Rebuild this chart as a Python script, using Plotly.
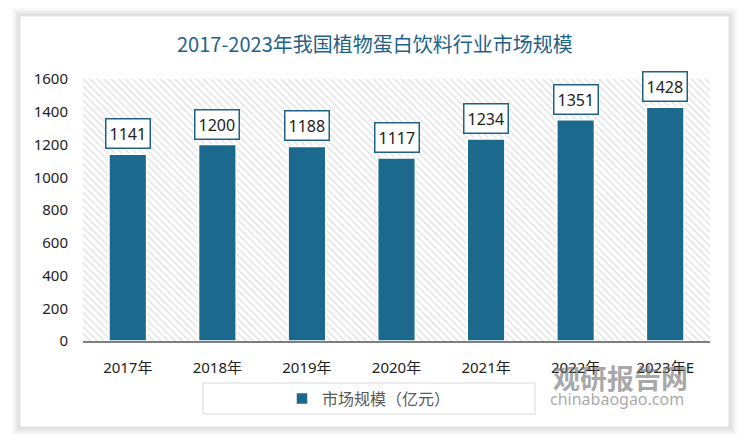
import plotly.graph_objects as go

categories = ["2017年", "2018年", "2019年", "2020年", "2021年", "2022年", "2023年E"]
values = [1141, 1200, 1188, 1117, 1234, 1351, 1428]
series_name = "市场规模（亿元）"
title_text = "2017-2023年我国植物蛋白饮料行业市场规模"
y_max = 1600
y_ticks = [0, 200, 400, 600, 800, 1000, 1200, 1400, 1600]

BAR = "#1b6a8d"
TITLE = "#1f6288"
FONT = "Noto Sans, Noto Sans CJK SC"

W, H = 750, 445
L, R, T, B = 83, 40, 79, 104
PW, PH = W - L - R, H - T - B

def px_x(p):
    return (p - L) / PW

def px_y(p):
    return (H - B - p) / PH

fig = go.Figure()

# hatched background of the plot area
fig.add_trace(go.Bar(
    x=categories, y=[y_max] * len(categories), width=1,
    marker=dict(color="white", line=dict(width=0),
                pattern=dict(shape="\\", fgcolor="#c8c8c8", bgcolor="white", size=5, solidity=0.3)),
    hoverinfo="skip", showlegend=False,
))

fig.add_trace(go.Bar(
    x=categories, y=values, name=series_name, width=0.42,
    marker=dict(color=BAR, line=dict(color="white", width=1.5)),
))

annotations = []
for c, v in zip(categories, values):
    annotations.append(dict(
        x=c, y=v, xref="x", yref="y", text=str(v), showarrow=False,
        yanchor="bottom", yshift=5,
        font=dict(family=FONT, size=16, color="#222222"),
        bgcolor="white", bordercolor=TITLE, borderwidth=1.5, borderpad=3,
    ))

annotations.append(dict(
    x=px_x(374.5), y=px_y(44), xref="paper", yref="paper", text=title_text,
    showarrow=False, xanchor="center", yanchor="middle",
    font=dict(family="Noto Sans CJK SC", size=20, color=TITLE),
))

# watermark
annotations.append(dict(
    x=px_x(620), y=px_y(377), xref="paper", yref="paper", text="<b>观研报告网</b>",
    showarrow=False, xanchor="center", yanchor="middle",
    font=dict(family="Noto Sans CJK SC", size=27, color="rgba(110,110,110,0.6)"),
))
annotations.append(dict(
    x=px_x(617), y=px_y(399), xref="paper", yref="paper", text="chinabaogao.com",
    showarrow=False, xanchor="center", yanchor="middle",
    font=dict(family="Noto Sans", size=16, color="rgba(110,110,110,0.6)"),
))

shapes = []
# card shadow
for i, a in enumerate([0.025, 0.03, 0.035, 0.04]):
    d = 8 - 2 * i
    shapes.append(dict(
        type="rect", xref="paper", yref="paper", layer="below",
        x0=px_x(20 - d), x1=px_x(729 + d), y0=px_y(427 + d), y1=px_y(16 - d),
        fillcolor=f"rgba(0,0,0,{a})", line=dict(width=0),
    ))
shapes.append(dict(
    type="rect", xref="paper", yref="paper", layer="below",
    x0=px_x(20), x1=px_x(729), y0=px_y(427), y1=px_y(16),
    fillcolor="white", line=dict(color="#e6e6e6", width=1),
))
# legend frame
shapes.append(dict(
    type="rect", xref="paper", yref="paper", layer="above",
    x0=px_x(203), x1=px_x(535), y0=px_y(414), y1=px_y(383),
    fillcolor="rgba(0,0,0,0)", line=dict(color="#d9d9d9", width=1),
))

fig.update_layout(
    width=W, height=H,
    margin=dict(l=L, r=R, t=T, b=B),
    paper_bgcolor="white", plot_bgcolor="white",
    barmode="overlay",
    showlegend=True,
    legend=dict(
        orientation="h", x=px_x(369), y=px_y(398.5), xanchor="center", yanchor="middle",
        font=dict(family="Noto Sans CJK SC", size=16, color="#595959"),
        bgcolor="rgba(0,0,0,0)", borderwidth=0, itemclick=False,
    ),
    annotations=annotations,
    shapes=shapes,
    xaxis=dict(
        showgrid=False, showline=True, linecolor="#7f7f7f", linewidth=1.5,
        ticks="", ticklabelstandoff=12, fixedrange=True,
        tickfont=dict(family=FONT, size=15, color="#222222"),
    ),
    yaxis=dict(
        range=[0, y_max], tickvals=y_ticks, showgrid=False, zeroline=False,
        showline=False, ticks="", ticklabelstandoff=14, fixedrange=True,
        tickfont=dict(family=FONT, size=15, color="#222222"),
    ),
)

fig.write_html("out.html")
